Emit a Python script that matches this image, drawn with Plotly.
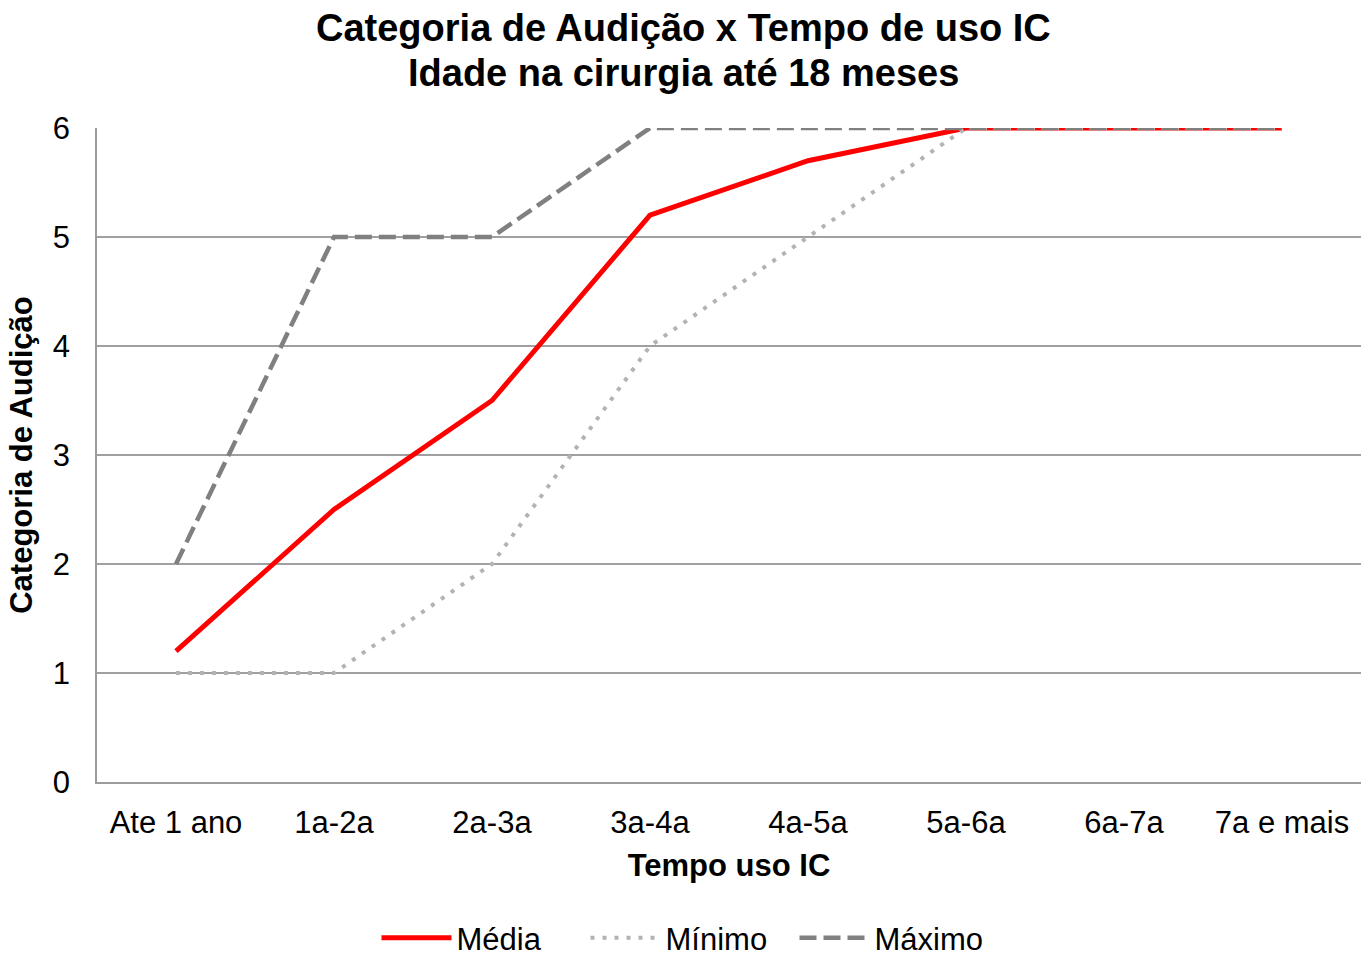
import plotly.graph_objects as go

categorias = ["Ate 1 ano", "1a-2a", "2a-3a", "3a-4a", "4a-5a", "5a-6a", "6a-7a", "7a e mais"]
media = [1.2, 2.5, 3.5, 5.2, 5.7, 6, 6, 6]
minimo = [1, 1, 2, 4, 5, 6, 6, 6]
maximo = [2, 5, 5, 6, 6, 6, 6, 6]
y_ticks = [0, 1, 2, 3, 4, 5, 6]
titulo = ["Categoria de Audição x Tempo de uso IC", "Idade na cirurgia até 18 meses"]

FONT = "Liberation Sans, Arial, sans-serif"
W, H = 1361, 956

fig = go.Figure()
fig.add_trace(go.Scatter(x=categorias, y=media, mode="lines", name="Média",
                         line=dict(color="#ff0000", width=5)))
fig.add_trace(go.Scatter(x=categorias, y=minimo, mode="lines", name="Mínimo",
                         line=dict(color="#b3b3b3", width=4, dash="4px,8px")))
fig.add_trace(go.Scatter(x=categorias, y=maximo, mode="lines", name="Máximo",
                         line=dict(color="#808080", width=4.5, dash="17px,7px")))

for txt, ypx in zip(titulo, [28, 73]):
    fig.add_annotation(text=f"<b>{txt}</b>", xref="paper", yref="paper",
                       x=(683 - 97) / (W - 97), y=1 + (128 - ypx) / (H - 128 - 174),
                       xanchor="center", yanchor="middle", showarrow=False,
                       font=dict(family=FONT, size=38, color="black"))

fig.update_layout(
    width=W, height=H,
    margin=dict(l=97, r=0, t=128, b=174),
    paper_bgcolor="white", plot_bgcolor="white",
    font=dict(family=FONT, size=31, color="black"),
    legend=dict(orientation="h", x=690 / W, xref="container", xanchor="center",
                y=1 - 938 / H, yref="container", yanchor="middle",
                font=dict(family=FONT, size=31, color="black"),
                itemwidth=70, entrywidth=124, entrywidthmode="pixels", tracegroupgap=0),
    showlegend=True,
)

fig.update_xaxes(
    type="category", categoryorder="array", categoryarray=categorias,
    range=[-0.5, 7.5], showgrid=False, showline=True, linecolor="#9c9c9c", linewidth=1.5,
    ticks="", ticklabelstandoff=12,
    tickfont=dict(family=FONT, size=31, color="black"),
    title=dict(text="<b>Tempo uso IC</b>", standoff=15,
               font=dict(family=FONT, size=31, color="black")),
)
fig.update_yaxes(
    range=[0, 6], tickvals=y_ticks, showgrid=True, gridcolor="#a0a0a0", gridwidth=1.5,
    showline=True, linecolor="#9c9c9c", linewidth=1.5, zeroline=False,
    ticks="", ticklabelstandoff=19,
    tickfont=dict(family=FONT, size=31, color="black"),
    title=dict(text="<b>Categoria de Audição</b>", standoff=11,
               font=dict(family=FONT, size=31, color="black")),
)

fig.write_html("out.html", config={"displayModeBar": False},
               post_script="document.body.style.margin='0';document.body.style.overflow='hidden';")
